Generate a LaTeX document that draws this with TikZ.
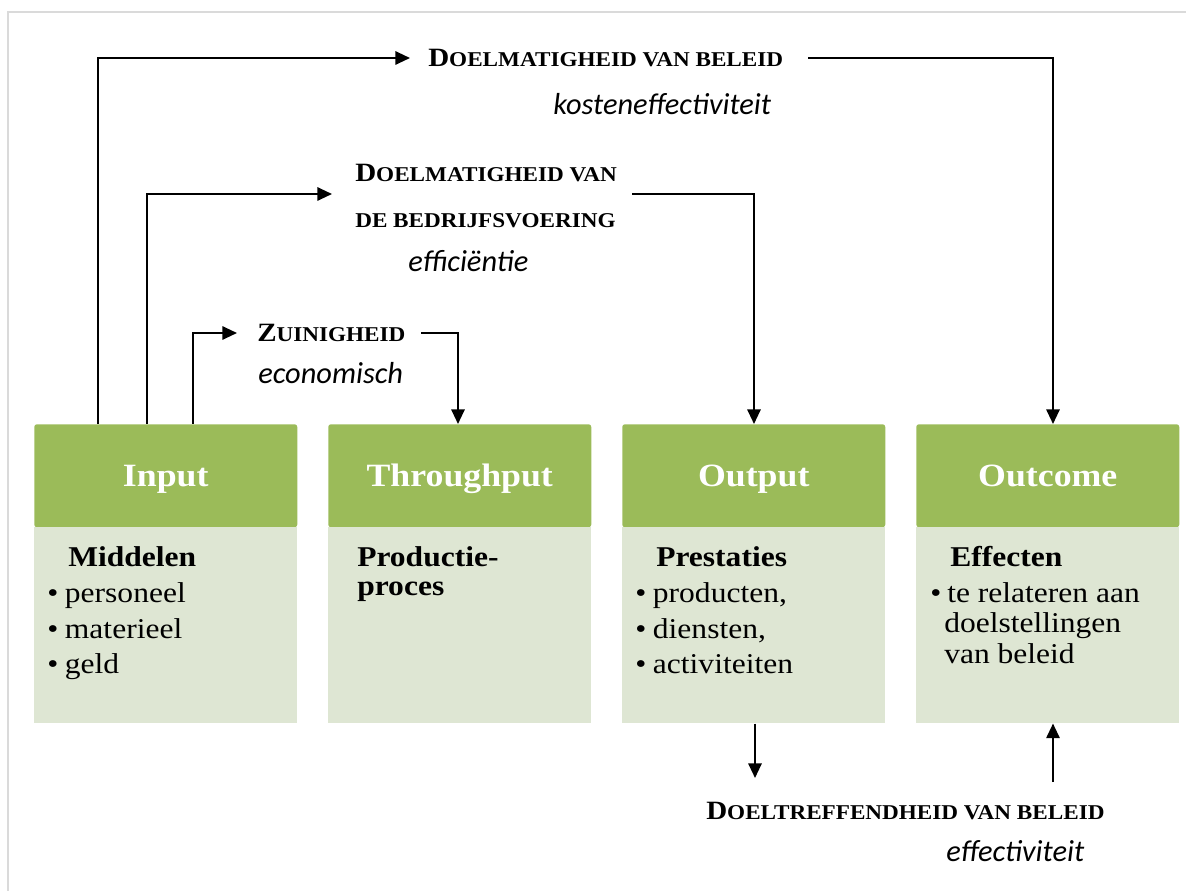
\documentclass[tikz,border=0pt]{standalone}
\usepackage{fontspec}
\setmainfont{Liberation Serif}[FakeStretch=1.1]
\newfontfamily\capfont{Carlito}
\usetikzlibrary{arrows.meta}
\definecolor{hdrgreen}{HTML}{9BBB59}
\definecolor{bodygreen}{HTML}{DEE6D3}
\definecolor{framegray}{HTML}{DADADA}
% bold label with a large initial and the rest in reduced capitals
\newcommand\capsl[2]{{\fontsize{19.8}{22}\selectfont #1}{\fontsize{15.8}{18}\selectfont #2}}
\newcommand\capss[1]{{\fontsize{15.8}{18}\selectfont #1}}
\begin{document}
\begin{tikzpicture}[x=0.75pt,y=-0.75pt,
  hdr/.style={fill=hdrgreen, rounded corners=2pt, minimum width=197.25pt,
    minimum height=77.25pt, inner sep=0pt, anchor=north west, text=white,
    font=\bfseries\fontsize{24.4}{26}\selectfont, text height=16.2pt, text depth=0pt},
  bodybox/.style={fill=bodygreen, minimum width=197.25pt, minimum height=147pt,
    inner sep=0pt, anchor=north west},
  bodytxt/.style={anchor=base west, inner sep=0pt, font=\fontsize{21.5}{24}\selectfont},
  bodyhead/.style={bodytxt, font=\bfseries\fontsize{21.5}{24}\selectfont},
  lbl/.style={anchor=base west, inner sep=0pt, font=\bfseries},
  sub/.style={anchor=base west, inner sep=0pt, font=\capfont\itshape\fontsize{22.8}{24}\selectfont},
  ln/.style={line width=1.5pt},
  arr/.style={ln, -{Triangle[length=11pt,width=10pt]}}]
\useasboundingbox (0,0) rectangle (1186,891);

% page frame
\draw[framegray, line width=1.5pt] (8,891) -- (8,12) -- (1186,12);

% column headers
\node[hdr] (inH)  at (34,424)  {Input};
\node[hdr] (thH)  at (328,424) {Throughput};
\node[hdr] (outH) at (622,424) {Output};
\node[hdr] (ocH)  at (916,424) {Outcome};

% column bodies
\node[bodybox] (inB)  at (34,527)  {};
\node[bodybox] (thB)  at (328,527) {};
\node[bodybox] (outB) at (622,527) {};
\node[bodybox] (ocB)  at (916,527) {};

% Input
\node[bodyhead] (inT0) at (68,566) {Middelen};
\node[bodytxt]  (inT1) at (47,602) {•\hspace{5pt}personeel};
\node[bodytxt]  (inT2) at (47,638) {•\hspace{5pt}materieel};
\node[bodytxt]  (inT3) at (47,673) {•\hspace{5pt}geld};

% Throughput
\node[bodyhead] (thT0) at (357,566) {Productie-};
\node[bodyhead] (thT1) at (357,595) {proces};

% Output
\node[bodyhead] (outT0) at (656,566) {Prestaties};
\node[bodytxt]  (outT1) at (635,602) {•\hspace{5pt}producten,};
\node[bodytxt]  (outT2) at (635,638) {•\hspace{5pt}diensten,};
\node[bodytxt]  (outT3) at (635,673) {•\hspace{5pt}activiteiten};

% Outcome
\node[bodyhead] (ocT0) at (950,566) {Effecten};
\node[bodytxt]  (ocT1) at (930,602) {•\hspace{4.5pt}te relateren aan};
\node[bodytxt]  (ocT2) at (944,632) {doelstellingen};
\node[bodytxt]  (ocT3) at (944,663) {van beleid};

% labels
\node[lbl] (lblA)  at (428,67)  {\capsl{D}{OELMATIGHEID VAN BELEID}};
\node[sub] (subA)  at (553,115) {kosteneffectiviteit};
\node[lbl] (lblB1) at (355,182) {\capsl{D}{OELMATIGHEID VAN}};
\node[lbl] (lblB2) at (355,228) {\capss{DE BEDRIJFSVOERING}};
\node[sub] (subB)  at (408,272) {efficiëntie};
\node[lbl] (lblC)  at (257,342) {\capsl{Z}{UINIGHEID}};
\node[sub] (subC)  at (258,383) {economisch};
\node[lbl] (lblD)  at (706,819) {\capsl{D}{OELTREFFENDHEID VAN BELEID}};
\node[sub] (subD)  at (946,861) {effectiviteit};

% connector ends beside the labels
\coordinate (inA)  at (410,58);
\coordinate (outA) at (808,58);
\coordinate (inB2) at (332,194);
\coordinate (outB2) at (632,194);
\coordinate (inC)  at (237,333);
\coordinate (outC) at (421,333);
\coordinate (endD) at (755,778);
\coordinate (startD) at (1053,782);

% connectors
\draw[arr] ([xshift=48pt]inH.north west)     |- (inA);
\draw[arr] (outA) -| ([xshift=102.75pt]ocH.north west);
\draw[arr] ([xshift=84.75pt]inH.north west)  |- (inB2);
\draw[arr] (outB2) -| ([xshift=99pt]outH.north west);
\draw[arr] ([xshift=119.25pt]inH.north west) |- (inC);
\draw[arr] (outC) -| ([xshift=97.5pt]thH.north west);
\draw[arr] ([xshift=99.75pt]outB.south west) -- (endD);
\draw[arr] (startD) -- ([xshift=102.75pt]ocB.south west);
\end{tikzpicture}
\end{document}
